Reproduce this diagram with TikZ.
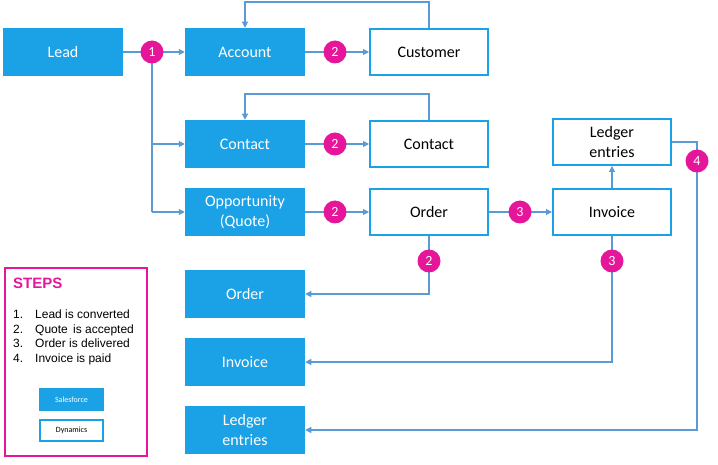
\documentclass[tikz,border=0pt]{standalone}
\usepackage{fontspec}
\setmainfont{Carlito}
\newfontfamily\arialf{Liberation Sans}
\usetikzlibrary{arrows.meta}
\definecolor{sfblue}{HTML}{1BA1E6}
\definecolor{lnblue}{HTML}{5B9BD5}
\definecolor{pinkc}{HTML}{E6169A}
\begin{document}
\begin{tikzpicture}[x=1pt,y=-1pt,
  sf/.style={draw=sfblue,fill=sfblue,line width=1.5pt,text=white,minimum width=119pt,minimum height=47pt,inner sep=0pt,font=\fontsize{16}{20}\selectfont,align=center},
  dy/.style={draw=sfblue,fill=white,line width=2pt,text=black,minimum width=118pt,minimum height=46pt,inner sep=0pt,font=\fontsize{16}{20}\selectfont,align=center},
  num/.style={circle,fill=pinkc,text=white,minimum size=23pt,inner sep=0pt,font=\fontsize{14}{15}\selectfont},
  ln/.style={draw=lnblue,line width=1.1pt},
  ar/.style={ln,-{Triangle[length=6pt,width=6pt]}}]
\useasboundingbox (0,0) rectangle (718,465);
\node[sf] (lead) at (63,52) {Lead};
\node[sf] (acc) at (245,52) {Account};
\node[dy] (cust) at (429,52) {Customer};
\node[sf] (con) at (245,144) {Contact};
\node[dy] (con2) at (429,144) {Contact};
\node[sf] (opp) at (245,212) {Opportunity\\(Quote)};
\node[dy] (ord2) at (429,212) {Order};
\node[dy] (inv2) at (612,212) {Invoice};
\node[dy] (led2) at (612,142) {Ledger\\entries};
\node[sf] (ord) at (245,294) {Order};
\node[sf] (inv) at (245,362) {Invoice};
\node[sf] (led) at (245,430) {Ledger\\entries};
% connectors
\draw[ar] (lead.east) -- (acc.west);
\draw[ln] (152,52) -- (152,212);
\coordinate (b1) at (152,144);
\coordinate (b2) at (152,212);
\draw[ar] (b1) -- (con.west);
\draw[ar] (b2) -- (opp.west);
\draw[ar] (acc.east) -- (cust.west);
\draw[ar] (con.east) -- (con2.west);
\draw[ar] (opp.east) -- (ord2.west);
\draw[ar] (ord2.east) -- (inv2.west);
\draw[ar] (inv2.north) -- (led2.south);
\draw[ar] (cust.north) -- (429,2) -| (acc.north);
\draw[ar] (con2.north) -- (429,94) -| (con.north);
\draw[ar] (ord2.south) |- (ord.east);
\draw[ar] (inv2.south) |- (inv.east);
\draw[ar] (led2.east) -| (697,430) -- (led.east);
% numbers
\node[num] (n1) at (152,52) {1};
\node[num] (n2a) at (335,52) {2};
\node[num] (n2b) at (335,144) {2};
\node[num] (n2c) at (335,212) {2};
\node[num] (n3a) at (520,212) {3};
\node[num] (n2d) at (429,261) {2};
\node[num] (n3b) at (612,261) {3};
\node[num] (n4) at (697,161) {4};
% steps
\node[draw=pinkc,line width=2pt,minimum width=142pt,minimum height=187pt,inner sep=0pt] (steps) at (75.5,362) {};
\node[anchor=west,text=pinkc,font=\arialf\bfseries\fontsize{15}{16}\selectfont,inner sep=0pt] (st) at (13,283) {STEPS};
\node[anchor=north west,font=\arialf\fontsize{12}{14.5}\selectfont,align=left,inner sep=0pt] (list) at (13,310)
 {1.\hspace{1.0em}Lead is converted\\2.\hspace{1.0em}Quote\, is accepted\\3.\hspace{1.0em}Order is delivered\\4.\hspace{1.0em}Invoice is paid};
\node[sf,minimum width=64pt,minimum height=22pt,font=\fontsize{8}{9}\selectfont] (lg1) at (71.5,399.5) {Salesforce};
\node[dy,minimum width=63pt,minimum height=21pt,font=\fontsize{8}{9}\selectfont] (lg2) at (71.5,430) {Dynamics};
\end{tikzpicture}
\end{document}
